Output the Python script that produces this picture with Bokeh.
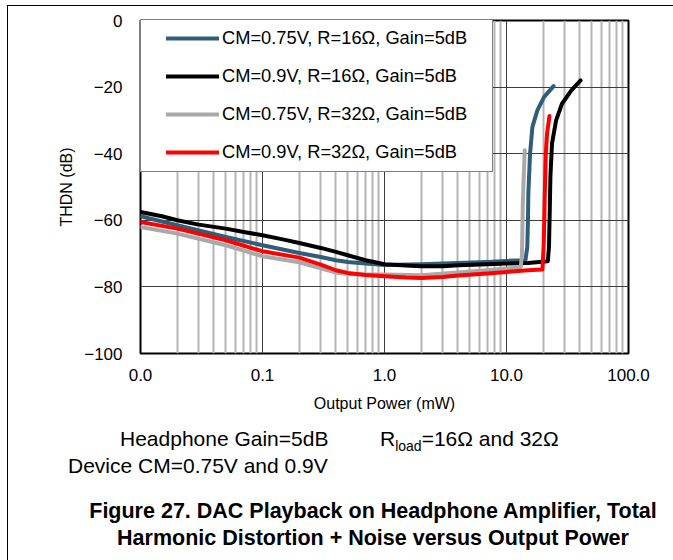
from bokeh.plotting import figure
from bokeh.layouts import column
from bokeh.models import FixedTicker, Legend, LegendItem, Div
from bokeh.embed import file_html
from bokeh.resources import INLINE

# ---------------- data ----------------
series_labels = [
    "CM=0.75V, R=16\u03a9, Gain=5dB",
    "CM=0.9V, R=16\u03a9, Gain=5dB",
    "CM=0.75V, R=32\u03a9, Gain=5dB",
    "CM=0.9V, R=32\u03a9, Gain=5dB",
]
series_colors = ["#2e5e78", "#000000", "#a9a9a9", "#ff0000"]

x_cm075_r16 = [0.01, 0.02, 0.05, 0.1, 0.2, 0.3, 0.4, 0.5, 0.7, 1.0, 2.0, 4.0, 7.0, 10.0, 14.3,
               14.8, 15.0, 15.1, 15.6, 16.3, 17.9, 20.3, 24.3]
y_cm075_r16 = [-58.8, -61.5, -65.0, -67.5, -69.8, -71.0, -72.0, -72.5, -73.0, -73.4, -73.2, -72.8, -72.5, -72.2, -72.0,
               -68.0, -60.0, -52.0, -40.0, -32.0, -27.0, -23.0, -19.7]

x_cm09_r16 = [0.01, 0.015, 0.02, 0.03, 0.05, 0.07, 0.1, 0.15, 0.2, 0.3, 0.4, 0.5, 0.7, 1.0, 1.5, 2.0, 3.0,
              4.0, 7.0, 10.0, 15.0, 21.8, 22.3, 22.6, 22.9, 23.6, 25.5, 28.5, 34.0, 40.5]
y_cm09_r16 = [-57.5, -58.8, -60.0, -61.3, -62.5, -63.5, -64.5, -65.8, -66.8, -68.3, -69.5, -70.5, -72.0, -73.2,
              -73.6, -73.8, -73.8, -73.5, -73.2, -73.0, -72.8, -72.3, -68.0, -58.0, -47.0, -37.0, -30.0,
              -25.0, -21.0, -18.0]

x_cm075_r32 = [0.01, 0.02, 0.05, 0.1, 0.2, 0.3, 0.4, 0.5, 0.7, 1.0, 2.0, 4.0, 7.0, 10.0, 13.1,
               13.4, 13.6, 13.9, 14.1]
y_cm075_r32 = [-62.0, -64.0, -67.5, -70.8, -72.6, -74.4, -75.7, -76.1, -76.3, -76.3, -76.5, -75.7, -75.0, -74.5,
               -74.0, -70.0, -55.0, -45.0, -39.0]

x_cm09_r32 = [0.01, 0.02, 0.05, 0.1, 0.2, 0.3, 0.4, 0.5, 0.7, 1.0, 1.5, 2.0, 3.0, 4.0, 7.0, 10.0, 15.0, 19.7,
              20.2, 20.6, 21.0, 21.5, 22.5]
y_cm09_r32 = [-60.5, -62.5, -66.0, -69.3, -71.2, -73.3, -75.0, -75.8, -76.4, -76.8, -77.2, -77.3, -77.0, -76.6,
              -76.0, -75.5, -75.0, -74.8, -67.0, -52.0, -40.0, -34.0, -28.7]

x_tick_values = [0.01, 0.1, 1, 10, 100]
x_tick_labels = ["0.0", "0.1", "1.0", "10.0", "100.0"]
x_minor_values = [m * d for d in (0.01, 0.1, 1, 10) for m in range(2, 10)]
y_tick_values = [-100, -80, -60, -40, -20, 0]
y_tick_labels = ["\u2212100", "\u221280", "\u221260", "\u221240", "\u221220", "0"]

x_title = "Output Power (mW)"
y_title = "THDN (dB)"
note_1 = "Headphone Gain=5dB"
note_2a, note_2b, note_2c = "R", "load", "=16\u03a9 and 32\u03a9"
note_3 = "Device CM=0.75V and 0.9V"
caption_1 = "Figure 27. DAC Playback on Headphone Amplifier, Total"
caption_2 = "Harmonic Distortion + Noise versus Output Power"

FONT = "Liberation Sans"

# ---------------- figure ----------------
p = figure(width=665, height=414, x_axis_type="log", x_range=(0.01, 100), y_range=(-100, 0),
           output_backend="svg", toolbar_location=None,
           min_border_left=132, min_border_right=45, min_border_top=14, min_border_bottom=67)
p.background_fill_color = "white"
p.border_fill_color = "white"
p.outline_line_color = "black"
p.outline_line_width = 2

p.xaxis.ticker = FixedTicker(ticks=x_tick_values, minor_ticks=x_minor_values)
p.xaxis.major_label_overrides = dict(zip(x_tick_values, x_tick_labels))
p.yaxis.ticker = FixedTicker(ticks=y_tick_values)
p.yaxis.major_label_overrides = dict(zip(y_tick_values, y_tick_labels))

for ax in (p.xaxis[0], p.yaxis[0]):
    ax.axis_line_color = None
    ax.major_tick_line_color = None
    ax.minor_tick_line_color = None
    ax.major_label_text_font = FONT
    ax.major_label_text_font_size = "17px"
    ax.major_label_text_color = "black"
    ax.axis_label_text_font = FONT
    ax.axis_label_text_font_size = "16px"
    ax.axis_label_text_font_style = "normal"
    ax.axis_label_text_color = "black"

p.xaxis.axis_label = x_title
p.yaxis.axis_label = y_title
p.xaxis.major_label_standoff = 9
p.xaxis.axis_label_standoff = 11
p.yaxis.major_label_standoff = 12
p.yaxis.axis_label_standoff = 6

p.xgrid.grid_line_color = "#3c3c3c"
p.xgrid.grid_line_width = 1
p.xgrid.minor_grid_line_color = "#b4b4b4"
p.xgrid.minor_grid_line_width = 2
p.ygrid.grid_line_color = "#3c3c3c"
p.ygrid.grid_line_width = 1

xs = [x_cm075_r16, x_cm09_r16, x_cm075_r32, x_cm09_r32]
ys = [y_cm075_r16, y_cm09_r16, y_cm075_r32, y_cm09_r32]
renderers = []
for xv, yv, c in zip(xs, ys, series_colors):
    renderers.append(p.line(xv, yv, line_color=c, line_width=4, line_join="round", line_cap="round"))

legend = Legend(items=[LegendItem(label=l, renderers=[r]) for l, r in zip(series_labels, renderers)],
                location=(0, 181), padding=8, margin=0, spacing=16,
                title=" ", title_location="left", title_text_font_size="1px", title_standoff=16,
                glyph_width=53, glyph_height=20, label_height=20, label_width=262, label_standoff=3,
                border_line_color="black", border_line_width=1.5,
                background_fill_color="white", background_fill_alpha=1,
                label_text_font=FONT, label_text_font_size="18.3px", label_text_color="black")
p.add_layout(legend)

# ---------------- notes and caption ----------------
html = f"""
<div style="position:relative;width:665px;height:139px;font-family:'Liberation Sans',Arial,sans-serif;color:#000;">
  <span style="position:absolute;left:107px;top:2px;font-size:21px;line-height:24px;white-space:nowrap;">{note_1}</span>
  <span style="position:absolute;left:367px;top:2px;font-size:21px;line-height:24px;white-space:nowrap;">{note_2a}<span style="font-size:14px;position:relative;top:5px;">{note_2b}</span>{note_2c}</span>
  <span style="position:absolute;left:55px;top:29px;font-size:21px;line-height:24px;white-space:nowrap;">{note_3}</span>
  <div style="position:absolute;left:10px;top:73px;width:700px;text-align:center;font-size:21.5px;line-height:27px;font-weight:bold;white-space:nowrap;">{caption_1}<br>{caption_2}</div>
</div>
"""
notes = Div(text=html, width=665, height=139)

layout = column(p, notes, spacing=0, margin=(5, 0, 0, 7),
                styles={"border-top": "1px solid black", "border-left": "1px solid black"})

open("out.html", "w").write(file_html(layout, INLINE))
